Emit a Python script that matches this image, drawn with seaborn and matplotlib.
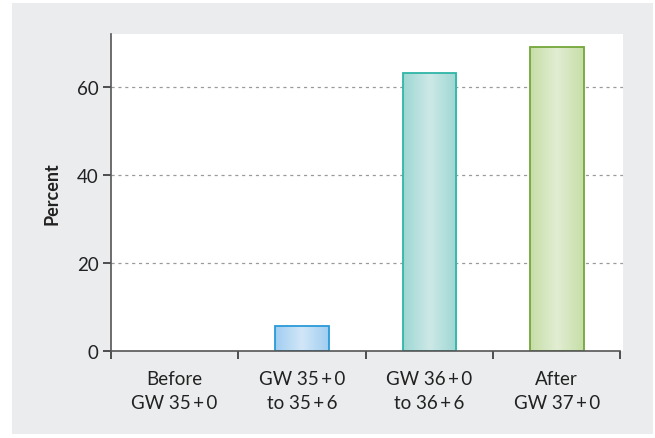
import numpy as np
import pandas as pd
import matplotlib
matplotlib.use("Agg")
import matplotlib.pyplot as plt
from matplotlib.colors import LinearSegmentedColormap
from matplotlib.patches import Rectangle
import seaborn as sns

# chart data
categories = ["Before\nGW 35\u2009+\u20090", "GW 35\u2009+\u20090\nto 35\u2009+\u20096",
              "GW 36\u2009+\u20090\nto 36\u2009+\u20096", "After\nGW 37\u2009+\u20090"]
percent = [0.0, 5.7, 63.1, 69.1]
yticks = [0, 20, 40, 60]

# bar styling: edge colour, outer fill, centre fill
edge_cols = ["#2a9ad8", "#2a9ad8", "#2fb5a8", "#73a63a"]
outer_cols = ["#9fcdf0", "#9fcdf0", "#9dd7d3", "#c6dea6"]
inner_cols = ["#d2e7f8", "#d2e7f8", "#cde9e7", "#e2edd3"]

sns.set_style("white")
plt.rcParams["font.family"] = ["Lato", "DejaVu Sans"]

df = pd.DataFrame({"cat": categories, "pct": percent})

fig = plt.figure(figsize=(6.55, 4.39), dpi=100)
fig.patch.set_facecolor("white")
# grey background panel
fig.patches.append(Rectangle((12 / 655, 1 - 435 / 439), (653 - 12) / 655, (435 - 4) / 439,
                             transform=fig.transFigure, facecolor="#ebeced",
                             edgecolor="none", zorder=-10))

ax = fig.add_axes([111 / 655, 1 - 352 / 439, (623 - 111) / 655, (352 - 35) / 439])
ax.set_facecolor("white")

sns.barplot(data=df, x="cat", y="pct", ax=ax, width=0.42,
            color="white", saturation=1, zorder=3)

ax.set_xlim(-0.5, 3.52)
ax.set_ylim(0, 72)

# gradient fill clipped to each bar
for i, bar in enumerate(ax.patches):
    h = bar.get_height()
    bar.set_edgecolor(edge_cols[i])
    bar.set_linewidth(1.3)
    if h <= 0:
        bar.set_visible(False)
        continue
    cmap = LinearSegmentedColormap.from_list(
        "g%d" % i, [outer_cols[i], inner_cols[i], outer_cols[i]])
    grad = np.linspace(0, 1, 256).reshape(1, -1)
    x0 = bar.get_x()
    w = bar.get_width()
    im = ax.imshow(grad, cmap=cmap, aspect="auto", extent=[x0, x0 + w, 0, h],
                   zorder=2.5, interpolation="bicubic")
    im.set_clip_path(bar)
    bar.set_facecolor("none")

ax.set_xlim(-0.5, 3.52)
ax.set_ylim(0, 72)

# dotted grid lines
for y in yticks[1:]:
    ax.axhline(y, color="#9a9a9a", linestyle=(0, (2.5, 3)), linewidth=0.9, zorder=1)

sns.despine(ax=ax, top=True, right=True)
for s in ["left", "bottom"]:
    ax.spines[s].set_color("#555555")
    ax.spines[s].set_linewidth(1.2)
    ax.spines[s].set_zorder(4)
ax.spines["bottom"].set_bounds(-0.5, 3.5)

ax.set_yticks(yticks)
ax.tick_params(axis="y", direction="out", length=6, width=1.2, color="#333333",
               labelsize=13.5, labelcolor="#222222", pad=3, left=True)

ax.set_xticks([-0.5, 0.5, 1.5, 2.5, 3.5])
ax.set_xticklabels([])
ax.set_xticks(range(len(categories)), minor=True)
ax.set_xticklabels(categories, minor=True, fontsize=13.5, color="#222222", linespacing=1.5)
ax.tick_params(axis="x", which="major", direction="out", length=6, width=1.2,
               color="#333333", bottom=True)
ax.tick_params(axis="x", which="minor", length=0, pad=14)

ax.set_xlabel("")
ax.set_ylabel("Percent", fontsize=13, fontweight="bold", color="#222222", labelpad=12)

fig.savefig("out.png", dpi=100)
